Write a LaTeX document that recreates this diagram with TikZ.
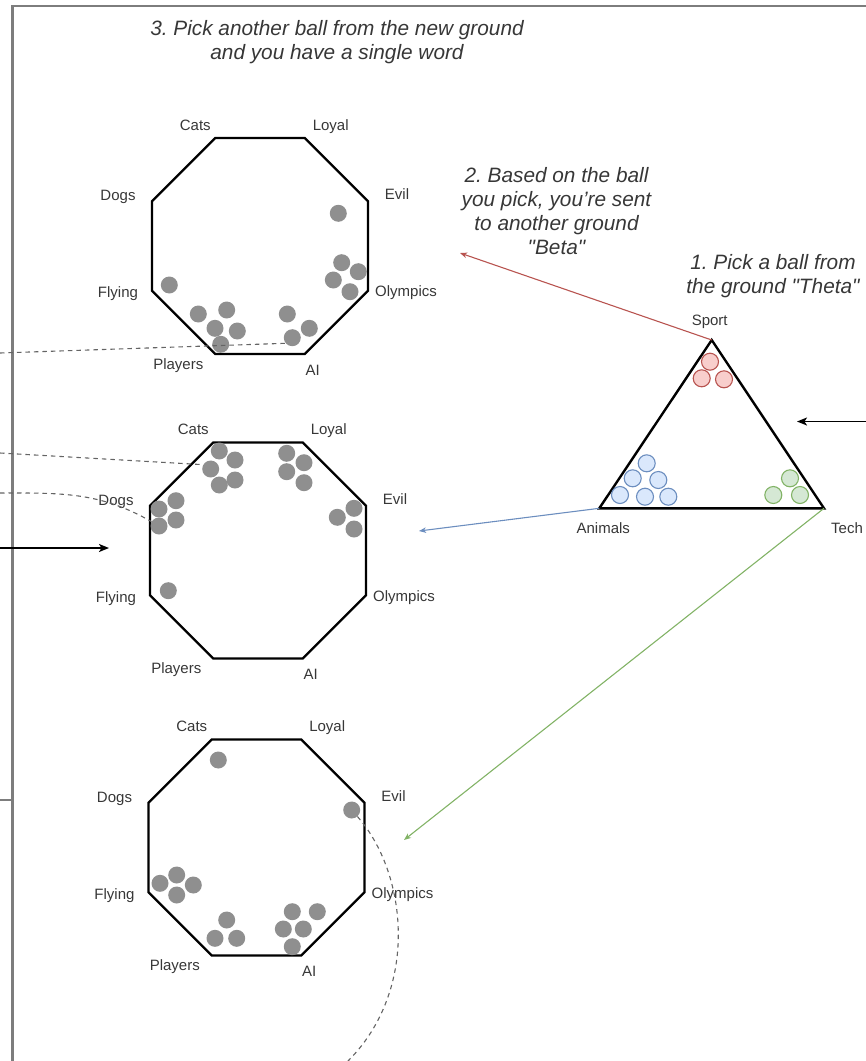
\documentclass[tikz,border=0pt]{standalone}
\usepackage{fontspec}
\setmainfont{Liberation Sans}
\usetikzlibrary{arrows.meta}
\frenchspacing

\definecolor{ballgray}{RGB}{143,143,143}
\definecolor{wordgray}{RGB}{55,55,55}
\definecolor{framegray}{RGB}{125,125,125}
\definecolor{dashgray}{RGB}{100,100,100}
\definecolor{sportfill}{HTML}{F8CECC}
\definecolor{sportline}{HTML}{B85450}
\definecolor{animalfill}{HTML}{DAE8FC}
\definecolor{animalline}{HTML}{6C8EBF}
\definecolor{techfill}{HTML}{D5E8D4}
\definecolor{techline}{HTML}{82B366}

\begin{document}
\begin{tikzpicture}
[x=1pt, y=1pt, font=\fontsize{15}{18}\selectfont]
\tikzstyle{ground}=[line width=2.4pt, black]
\tikzstyle{word}=[text=wordgray, inner sep=0pt, text height=10.5pt, text depth=0pt]
\tikzstyle{note}=[text=wordgray, inner sep=0pt, align=center, font=\fontsize{20.8}{24}\selectfont\itshape]
\tikzstyle{ball}=[circle, fill=ballgray, inner sep=0pt, minimum size=17pt]
\tikzstyle{pick}=[circle, line width=1.1pt, inner sep=0pt, minimum size=17pt]
\tikzstyle{trail}=[dashgray, line width=1.1pt, dash pattern=on 4.5pt off 4pt]
\tikzstyle{send}=[line width=1.1pt, -{Stealth[length=7pt, width=5.5pt, inset=2pt]}]
\tikzstyle{push}=[line width=1.6pt, -{Stealth[length=10pt, width=8pt, inset=2.5pt]}]

\useasboundingbox (0,0) rectangle (866,-1061);

\draw[framegray, line width=2.2pt] (12.5,-1061) -- (12.5,-6) -- (866,-6);
\draw[framegray, line width=1.6pt] (0,-800) -- (12.5,-800);

\node[note] (step3) at (337,-42.5) {3. Pick another ball from the new ground\\and you have a single word};
\node[note] (step2) at (556.5,-211.5) {2. Based on the ball\\you pick, you're sent\\to another ground\\\textquotedbl Beta\textquotedbl};
\node[note] (step1) at (773,-276) {1. Pick a ball from\\the ground \textquotedbl Theta\textquotedbl};

\foreach \g/\cx/\cy in {A/260/-246, B/258/-550.5, C/256.5/-847.5}{
  \foreach \i/\w/\dx/\dy in {1/Evil/29/7, 2/Loyal/26/13, 3/Cats/-20/13, 4/Dogs/-34/6,
                            5/Flying/-34/-2, 6/Players/-37/-10, 7/AI/8/-16, 8/Olympics/38/-1}{
    \coordinate (\g\i) at ([shift={({-22.5+45*\i}:116.9)}]\cx,\cy);
    \node[word] (\g-\w) at ([shift={(\dx,\dy)}]\g\i) {\w};
  }
  \draw[ground] (\g1)--(\g2)--(\g3)--(\g4)--(\g5)--(\g6)--(\g7)--(\g8)--cycle;
}

\foreach \x/\y [count=\n] in {338.3/213.3, 341.7/262.7, 358.3/271.7, 333.3/280, 350/291.7,
    169.3/285, 198.3/314, 226.7/310, 215/328.3, 237.3/331, 220.7/344.3,
    287.3/314, 309.3/328.3, 292.3/337.7}
  \node[ball] (a\n) at (\x,-\y) {};
\foreach \x/\y [count=\n] in {219.3/451, 235/460, 210.7/469, 235/480, 219.3/485,
    286.7/453.3, 304/462.7, 286.7/471.7, 304/482.7, 176/500.7, 159/509, 176/520, 159/526,
    354/508.3, 337.3/517.3, 354/529, 168.3/590.7}
  \node[ball] (b\n) at (\x,-\y) {};
\foreach \x/\y [count=\n] in {218.3/760, 351.7/810, 176.7/875, 160/883.3, 193.3/885, 176.7/895,
    226.7/920, 215/938.3, 236.7/938.3, 292.3/911.7, 317.3/911.7, 283.3/929, 303.3/929, 292.3/946.7}
  \node[ball] (c\n) at (\x,-\y) {};

\coordinate (T1) at (711.7,-340);
\coordinate (T2) at (599.3,-508.3);
\coordinate (T3) at (824,-508.3);
\draw[ground] (T1) -- (T2) -- (T3) -- cycle;
\node[word] (Sport)   at ([shift={(-2,20)}]T1)  {Sport};
\node[word] (Animals) at ([shift={(4,-20)}]T2)  {Animals};
\node[word] (Tech)    at ([shift={(23,-20)}]T3) {Tech};

\foreach \x/\y [count=\n] in {710/361.7, 701.7/378.3, 724/379.3}
  \node[pick, draw=sportline, fill=sportfill] (s\n) at (\x,-\y) {};
\foreach \x/\y [count=\n] in {646.7/463.3, 632.7/478.3, 658.3/480, 620/495, 645/496.7, 668.3/496.7}
  \node[pick, draw=animalline, fill=animalfill] (p\n) at (\x,-\y) {};
\foreach \x/\y [count=\n] in {790/478.3, 773.3/495, 800/495}
  \node[pick, draw=techline, fill=techfill] (t\n) at (\x,-\y) {};

\coordinate (toBeta)   at (460,-253);
\coordinate (toAnimal) at (419,-531);
\coordinate (toTech)   at (404,-840);
\draw[send, sportline]  (T1) -- (toBeta);
\draw[send, animalline] (T2) -- (toAnimal);
\draw[send, techline]   (T3) -- (toTech);

\coordinate (inTheta)  at (866,-421.5);
\coordinate (atTheta)  at (797,-421.5);
\coordinate (inBeta)   at (0,-548);
\coordinate (atBeta)   at (109,-548);
\draw[push] (inTheta) -- (atTheta);
\draw[push] (inBeta) -- (atBeta);

\coordinate (outA)  at (0,-353);
\coordinate (outB1) at (0,-453);
\coordinate (outB2) at (0,-493);
\coordinate (outC)  at (348,-1061);
\draw[trail] (outA) -- (a14.220);
\draw[trail] (outB1) -- (b3.150);
\draw[trail] (outB2) to[out=0, in=150] (b13);
\draw[trail] (c2) .. controls (408,-874) and (419,-990) .. (outC);
\end{tikzpicture}
\end{document}
